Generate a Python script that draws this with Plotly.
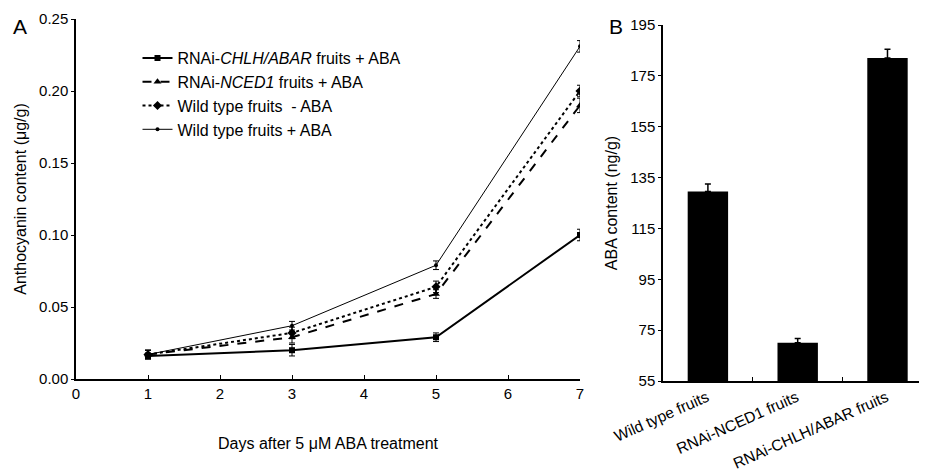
import plotly.graph_objects as go

# Panel A data
days = [1, 3, 5, 7]
chlh_abar = [0.016, 0.020, 0.029, 0.100]
chlh_err = [0.002, 0.004, 0.003, 0.004]
nced1 = [0.017, 0.029, 0.059, 0.190]
nced1_err = [0.003, 0.004, 0.003, 0.005]
wt_minus = [0.017, 0.032, 0.064, 0.200]
wt_minus_err = [0.003, 0.004, 0.004, 0.004]
wt_plus = [0.017, 0.037, 0.079, 0.231]
wt_plus_err = [0.003, 0.003, 0.003, 0.004]

# Panel B data
bar_cats = ["Wild type fruits", "RNAi-NCED1 fruits", "RNAi-CHLH/ABAR fruits"]
aba_vals = [129.5, 70.0, 182.0]
aba_err = [3.0, 1.7, 3.5]

FONT = "Liberation Sans, Arial, sans-serif"

# page body has an 8px margin, so the figure is 8px smaller and coords shifted
OFF = 8
W, H = 927 - OFF, 475 - OFF


def fx(px):
    return (px - OFF) / W


def fy(py):
    return 1 - (py - OFF) / H


fig = go.Figure()


def eb(err):
    return dict(type="data", array=err, color="black", thickness=1, width=3)


fig.add_trace(go.Scatter(
    x=days, y=chlh_abar, error_y=eb(chlh_err), mode="lines+markers",
    name="RNAi-<i>CHLH/ABAR</i> fruits + ABA",
    line=dict(color="black", width=2),
    marker=dict(symbol="square", size=6, color="black"),
    legendgroup="a", xaxis="x", yaxis="y"))
fig.add_trace(go.Scatter(
    x=days, y=nced1, error_y=eb(nced1_err), mode="lines+markers",
    name="RNAi-<i>NCED1</i> fruits + ABA",
    line=dict(color="black", width=2, dash="dash"),
    marker=dict(symbol="triangle-up", size=7, color="black"),
    legendgroup="b", xaxis="x", yaxis="y"))
fig.add_trace(go.Scatter(
    x=days, y=wt_minus, error_y=eb(wt_minus_err), mode="lines+markers",
    name="Wild type fruits  - ABA",
    line=dict(color="black", width=2, dash="dot"),
    marker=dict(symbol="diamond", size=7, color="black"),
    legendgroup="c", xaxis="x", yaxis="y"))
fig.add_trace(go.Scatter(
    x=days, y=wt_plus, error_y=eb(wt_plus_err), mode="lines+markers",
    name="Wild type fruits + ABA",
    line=dict(color="black", width=1),
    marker=dict(symbol="circle", size=4, color="black"),
    legendgroup="d", xaxis="x", yaxis="y"))

fig.add_trace(go.Bar(
    x=[0, 1, 2], y=aba_vals, width=0.45,
    marker=dict(color="black", line=dict(width=0)),
    error_y=dict(type="data", array=aba_err, symmetric=False, arrayminus=[0, 0, 0],
                 color="black", thickness=1.5, width=3),
    showlegend=False, xaxis="x2", yaxis="y2"))

TF = dict(size=15, color="black", family=FONT)
TT = dict(size=16, color="black", family=FONT)
TC = dict(size=15.5, color="black", family=FONT)
base = dict(showline=True, linecolor="black", linewidth=1.5, showgrid=False,
            zeroline=False, tickcolor="black", automargin=False)

fig.update_layout(
    width=W, height=H,
    paper_bgcolor="white", plot_bgcolor="white",
    margin=dict(l=0, r=0, t=0, b=0),
    font=dict(family=FONT, color="black"),
    showlegend=True,
    legend=dict(x=fx(137.5), y=fy(41), xanchor="left", yanchor="top",
                font=TT,
                bgcolor="rgba(0,0,0,0)", tracegroupgap=0, traceorder="grouped",
                itemwidth=30),
    xaxis=dict(domain=[fx(76), fx(580)], range=[0, 7], tickvals=[0, 1, 2, 3, 4, 5, 6, 7],
               ticks="inside", ticklen=4, anchor="y", tickfont=TF,
               title=dict(text="Days after 5 μM ABA treatment", standoff=37, font=TT),
               **base),
    yaxis=dict(domain=[fy(379), fy(19)], range=[0, 0.25],
               tickvals=[0, 0.05, 0.10, 0.15, 0.20, 0.25], tickformat=".2f",
               ticks="outside", ticklen=3, anchor="x", tickfont=TF,
               title=dict(text="Anthocyanin content (μg/g)", standoff=8, font=TT),
               **base),
    xaxis2=dict(domain=[fx(663), 1.0], range=[-0.5, 2.44], tickvals=[0, 1, 2],
                ticktext=bar_cats, ticks="", tickangle=-24, anchor="y2",
                ticklabelshift=-1, tickfont=TC,
                minor=dict(tickvals=[0.5, 1.5], ticks="inside", ticklen=4, tickcolor="black"),
                **base),
    yaxis2=dict(domain=[fy(381), fy(25)], range=[55, 195],
                tickvals=[55, 75, 95, 115, 135, 155, 175, 195],
                ticks="outside", ticklen=3, anchor="x2", tickfont=TF,
                title=dict(text="ABA content (ng/g)", standoff=9, font=TT),
                **base),
    annotations=[
        dict(text="A", x=fx(20), y=fy(27), xref="paper", yref="paper",
             xanchor="center", yanchor="middle",
             showarrow=False, font=dict(size=21, family=FONT, color="black")),
        dict(text="B", x=fx(616), y=fy(27), xref="paper", yref="paper",
             xanchor="center", yanchor="middle",
             showarrow=False, font=dict(size=21, family=FONT, color="black")),
    ],
)

fig.write_html("out.html")
